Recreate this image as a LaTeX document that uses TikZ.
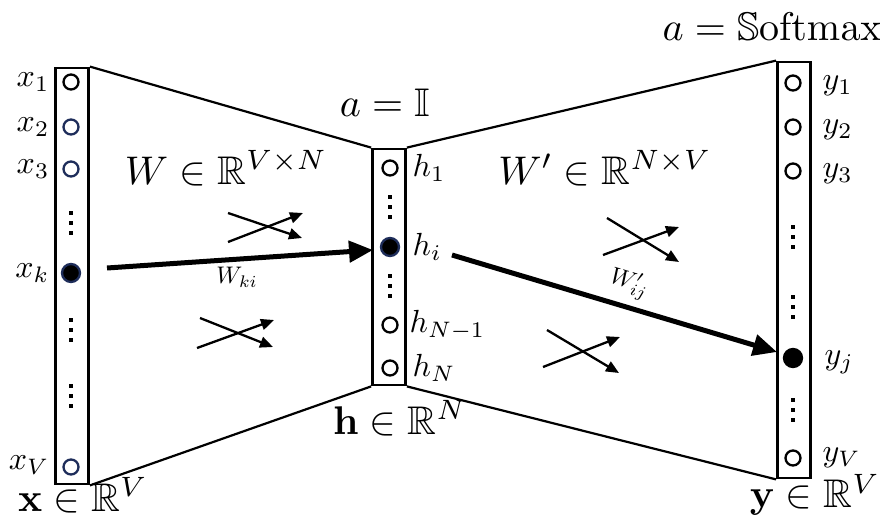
\documentclass[tikz,border=0pt]{standalone}
\usepackage{amssymb}
\usetikzlibrary{arrows.meta}
\definecolor{navy}{RGB}{30,45,90}
\begin{document}
\begin{tikzpicture}[x=1pt,y=-1pt,
  box/.style={draw, line width=2.8pt, minimum width=33pt, inner sep=0},
  neuron/.style={circle, draw, line width=2.3pt, minimum size=15pt, inner sep=0},
  active/.style={neuron, fill=black, minimum size=18pt},
  lbl/.style={scale=3.2, inner sep=0},
  biglbl/.style={scale=4, inner sep=0},
  smalllbl/.style={scale=2.4, inner sep=0},
  mainarrow/.style={line width=5pt, -{Triangle[length=24pt,width=21pt]}},
  crossarrow/.style={line width=2.3pt, -{Triangle[length=13pt,width=11pt]}},
  trap/.style={line width=2.2pt},
  vd/.pic={\fill (-2,-12) rectangle (2,-8); \fill (-2,-2) rectangle (2,2); \fill (-2,8) rectangle (2,12);}
]
\useasboundingbox (0,0) rectangle (880,524);

% boxes
\node[box, minimum height=416pt] (L) at (72,276) {};
\node[box, minimum height=236pt] (M) at (389,267) {};
\node[box, minimum height=416pt] (R) at (794,270) {};

% trapezoid sides
\draw[trap] (L.north east) -- (M.north west);
\draw[trap] (L.south east) -- (M.south west);
\draw[trap] (M.north east) -- (R.north west);
\draw[trap] (M.south east) -- (R.south west);

% left neurons
\node[neuron] (x1) at (71,82) {};
\node[neuron, draw=navy] (x2) at (71,127) {};
\node[neuron, draw=navy] (x3) at (71,169) {};
\node[active, draw=navy] (xk) at (71,273) {};
\node[neuron, draw=navy] (xV) at (71,467) {};
\pic at (71,223) {vd};
\pic at (71,330) {vd};
\pic at (71,396) {vd};

% middle neurons
\node[neuron] (h1) at (390,168) {};
\node[active, draw=navy] (hi) at (390,247) {};
\node[neuron] (hN1) at (390,325) {};
\node[neuron] (hN) at (390,368) {};
\pic at (390,207) {vd};
\pic at (390,286) {vd};

% right neurons
\node[neuron] (y1) at (793,83) {};
\node[neuron] (y2) at (793,127) {};
\node[neuron] (y3) at (793,171) {};
\node[active] (yj) at (793,358) {};
\node[neuron] (yV) at (793,458) {};
\pic at (793,237) {vd};
\pic at (793,307) {vd};
\pic at (793,410) {vd};

% left labels
\node[lbl, anchor=east] (lx1) at (50,82) {$x_1$};
\node[lbl, anchor=east] (lx2) at (50,127) {$x_2$};
\node[lbl, anchor=east] (lx3) at (50,169) {$x_3$};
\node[lbl, anchor=east] (lxk) at (50,273) {$x_k$};
\node[lbl, anchor=east] (lxV) at (50,465) {$x_V$};

% middle labels
\node[lbl, anchor=west] (lh1) at (412,168) {$h_1$};
\node[lbl, anchor=west] (lhi) at (412,247) {$h_i$};
\node[lbl, anchor=west] (lhN1) at (409,325) {$h_{N-1}$};
\node[lbl, anchor=west] (lhN) at (412,368) {$h_N$};

% right labels
\node[lbl, anchor=west] (ly1) at (822,86) {$y_1$};
\node[lbl, anchor=west] (ly2) at (822,130) {$y_2$};
\node[lbl, anchor=west] (ly3) at (822,174) {$y_3$};
\node[lbl, anchor=west] (lyj) at (824,362) {$y_j$};
\node[lbl, anchor=west] (lyV) at (822,458) {$y_V$};

% big labels
\node[biglbl] (act1) at (385,103) {$a=\mathbb{I}$};
\node[biglbl] (act2) at (772,27) {$a=\mathbb{S}\mathrm{oftmax}$};
\node[biglbl] (W) at (226,168) {$W\in\mathbb{R}^{V\times N}$};
\node[biglbl] (Wp) at (605,168) {$W'\in\mathbb{R}^{N\times V}$};
\node[biglbl] (xs) at (83,495) {$\mathbf{x}\in\mathbb{R}^{V}$};
\node[biglbl] (hs) at (400,418) {$\mathbf{h}\in\mathbb{R}^{N}$};
\node[biglbl] (ys) at (815,495) {$\mathbf{y}\in\mathbb{R}^{V}$};

% main arrows
\coordinate (a1s) at (107,268);
\coordinate (a1e) at (373,250);
\draw[mainarrow] (a1s) -- (a1e);
\node[smalllbl] (wki) at (237,277) {$W_{ki}$};
\coordinate (a2s) at (452,255);
\coordinate (a2e) at (777,352);
\draw[mainarrow] (a2s) -- (a2e);
\node[smalllbl, rotate=-16.6] (wij) at (629,284) {$W'_{ij}$};

% crosses
\coordinate (c1a) at (228,213); \coordinate (c1b) at (302,238);
\coordinate (c1c) at (228,242); \coordinate (c1d) at (303,213);
\draw[crossarrow] (c1a) -- (c1b);
\draw[crossarrow] (c1c) -- (c1d);
\coordinate (c2a) at (200,318); \coordinate (c2b) at (273,347);
\coordinate (c2c) at (197,348); \coordinate (c2d) at (274,320);
\draw[crossarrow] (c2a) -- (c2b);
\draw[crossarrow] (c2c) -- (c2d);
\coordinate (c3a) at (607,218); \coordinate (c3b) at (679,262);
\coordinate (c3c) at (603,255); \coordinate (c3d) at (679,227);
\draw[crossarrow] (c3a) -- (c3b);
\draw[crossarrow] (c3c) -- (c3d);
\coordinate (c4a) at (547,330); \coordinate (c4b) at (619,373);
\coordinate (c4c) at (543,367); \coordinate (c4d) at (620,337);
\draw[crossarrow] (c4a) -- (c4b);
\draw[crossarrow] (c4c) -- (c4d);
\end{tikzpicture}
\end{document}
